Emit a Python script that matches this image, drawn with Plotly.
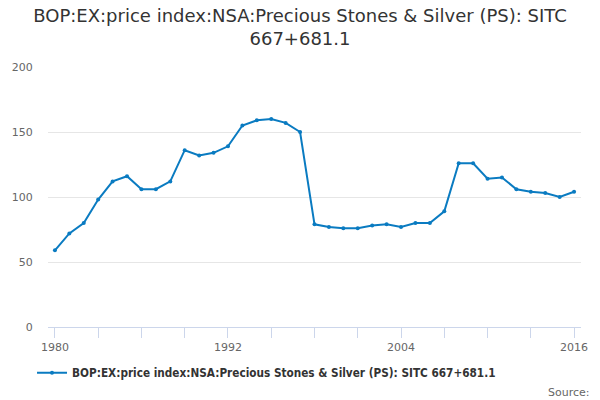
import plotly.graph_objects as go

# Yearly values
years = list(range(1980, 2017))
values = [59, 72, 80, 98, 112, 116, 106, 106, 112, 136,
          132, 134, 139, 155, 159, 160, 157, 150, 79, 77,
          76, 76, 78, 79, 77, 80, 80, 89, 126, 126,
          114, 115, 106, 104, 103, 100, 104]
x_ticks = list(range(1980, 2017, 3))
x_labels = [str(y) if (y - 1980) % 12 == 0 else "" for y in x_ticks]
y_ticks = [0, 50, 100, 150, 200]

series_name = "BOP:EX:price index:NSA:Precious Stones & Silver (PS): SITC 667+681.1"
line_color = "#0a7bc1"
font = "DejaVu Sans, Verdana, sans-serif"
cond = "DejaVu Sans Condensed, DejaVu Sans, sans-serif"

fig = go.Figure()
fig.add_trace(go.Scatter(
    x=years, y=values,
    mode="lines+markers",
    name=series_name,
    line=dict(color=line_color, width=2),
    marker=dict(color=line_color, size=4),
))

fig.update_layout(
    width=600, height=400,
    margin=dict(l=46, r=17, t=67, b=73),
    paper_bgcolor="white", plot_bgcolor="white",
    font=dict(family=font, color="#666666", size=11),
    title=dict(
        text="BOP:EX:price index:NSA:Precious Stones & Silver (PS): SITC<br>667+681.1",
        x=0.5, xanchor="center", y=0.945, yanchor="top",
        font=dict(size=18, color="#333333", family=font),
    ),
    showlegend=True,
    legend=dict(
        orientation="h", x=0.41, xanchor="center", y=-0.12, yanchor="top",
        font=dict(size=11.7, color="#333333", family=cond, weight="bold"),
    ),
    xaxis=dict(
        range=[1979.52, 2016.48],
        tickmode="array", tickvals=x_ticks, ticktext=x_labels,
        ticks="outside", ticklen=10, tickcolor="#ccd6eb", tickwidth=1,
        showline=True, linecolor="#ccd6eb", linewidth=1,
        showgrid=False, zeroline=False,
        tickfont=dict(size=11, color="#666666"),
    ),
    yaxis=dict(
        range=[0, 200],
        tickmode="array", tickvals=y_ticks,
        showgrid=True, gridcolor="#e6e6e6", gridwidth=1,
        zeroline=False, showline=False,
        ticks="outside", ticklen=12, tickcolor="rgba(0,0,0,0)",
        tickfont=dict(size=11, color="#666666"),
    ),
    annotations=[dict(
        text="Source:", xref="paper", yref="paper",
        x=1.02, y=-0.25, xanchor="right", yanchor="middle",
        showarrow=False, font=dict(size=11, color="#666666"),
    )],
)

# drop the page's default body margin so the figure sits at the top-left corner
fig.write_html("out.html", config={"displayModeBar": False},
               post_script="document.body.style.margin='0';")
